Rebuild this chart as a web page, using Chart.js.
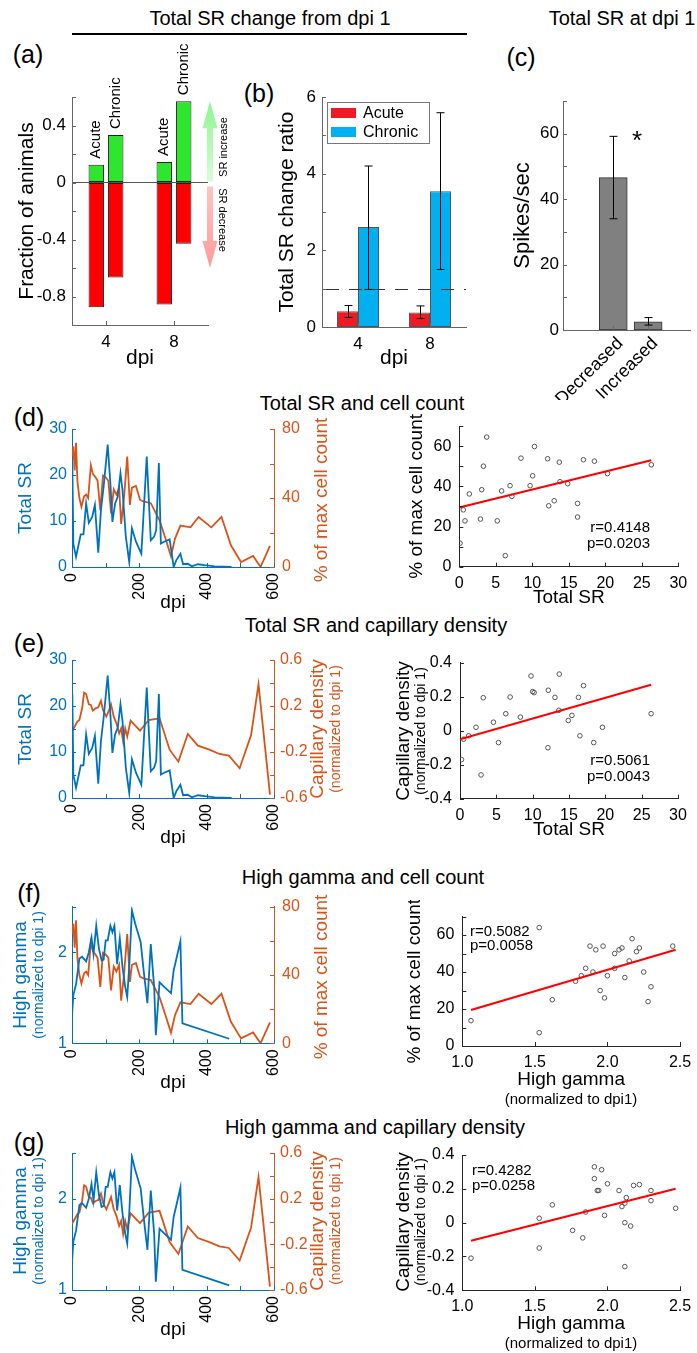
<!DOCTYPE html>
<html><head><meta charset="utf-8">
<script src="https://cdn.jsdelivr.net/npm/chart.js@4.4.1/dist/chart.umd.min.js"></script>
<style>
html,body{margin:0;padding:0;background:#fff}
body{width:697px;height:1353px;position:relative;overflow:hidden;font-family:'Liberation Sans',Arial,sans-serif}
.t{position:absolute;white-space:nowrap;color:#000;transform:translate(-50%,-50%);line-height:1}
canvas{position:absolute}
</style></head><body>
<div class="t" style="left:270px;top:18px;font-size:20px">Total SR change from dpi 1</div>
<div style="position:absolute;left:72px;top:33px;width:395px;height:2px;background:#000"></div>
<div class="t" style="left:622px;top:18px;font-size:20px">Total SR at dpi 1</div>
<div class="t" style="left:28px;top:54px;font-size:25px">(a)</div>
<div class="t" style="left:259px;top:93px;font-size:25px">(b)</div>
<div class="t" style="left:521px;top:57px;font-size:25px">(c)</div>
<div class="t" style="left:29px;top:417px;font-size:25px">(d)</div>
<div class="t" style="left:362px;top:403px;font-size:20px">Total SR and cell count</div>
<div class="t" style="left:29px;top:643px;font-size:25px">(e)</div>
<div class="t" style="left:376px;top:625px;font-size:20px">Total SR and capillary density</div>
<div class="t" style="left:29px;top:893px;font-size:25px">(f)</div>
<div class="t" style="left:363px;top:877px;font-size:20px">High gamma and cell count</div>
<div class="t" style="left:29px;top:1142px;font-size:25px">(g)</div>
<div class="t" style="left:375px;top:1127px;font-size:20px">High gamma and capillary density</div>
<script>
// ===== DATA =====
// (a) fraction of animals
const aCategories = ['4', '8'];
const aAcuteIncrease = [0.125, 0.143];
const aChronicIncrease = [0.333, 0.571];
const aAcuteDecrease = [-0.875, -0.857];
const aChronicDecrease = [-0.667, -0.429];
// (b) total SR change ratio
const bCategories = ['4', '8'];
const bAcute = [0.41, 0.38];
const bAcuteLow = [0.25, 0.22];
const bAcuteHigh = [0.56, 0.55];
const bChronic = [2.61, 3.54];
const bChronicLow = [0.98, 1.5];
const bChronicHigh = [4.2, 5.59];
const bReference = 1;
// (c) total SR at dpi 1
const cCategories = ['Decreased', 'Increased'];
const cMeans = [46.6, 2.5];
const cLow = [34, 1.5];
const cHigh = [59.2, 3.8];
// time series
const srDpi = [1,4,12,26,34,42,50,60,68,78,86,94,106,114,120,128,136,144,150,160,170,178,190,206,222,234,244,250,258,264,274,290,302,310,322,330,344,356,374,394,424,474];
const srValues = [22.6,5.0,2.2,7.1,7.1,13.8,9.6,10.9,13.5,3.1,12.4,17.5,26.6,18.2,9.8,13.8,15.3,20.4,16.7,6.5,1.1,8.4,5.5,2.9,24.0,5.8,6.6,8.0,22.6,5.1,5.5,6.0,0,1.5,2.9,0.6,0.7,0.15,0.6,0.4,0.15,0];
const cellDpi = [0,4,8,12,16,22,28,36,42,48,56,62,70,76,84,92,100,108,116,124,132,140,146,154,164,172,178,190,202,212,234,260,276,294,306,322,352,376,414,444,472,502,538,560,588];
const cellValues = [64,70,56,72,50,40,35,41,42,40,59,54,52,50,33,53,52,50,31,45,42,46,25,39,64,36,46,47,39,38,37,27,17.5,6.2,16.5,24,23,29,23,29,12.6,2.9,6.4,0,12.2];
const capDpi = [0,4,16,22,30,36,42,50,56,62,70,78,86,92,102,110,116,124,132,140,146,152,158,164,174,202,228,260,290,316,344,374,408,438,466,498,532,554,588];
const capValues = [-0.02,0.0,0.064,0.078,0.18,0.316,0.304,0.214,0.209,0.16,0.18,0.188,0.246,0.165,0.107,0.165,0.214,0.107,0.049,-0.038,0.006,-0.11,0.006,-0.067,0.072,-0.014,0.078,0.093,-0.18,-0.284,-0.043,-0.145,-0.18,-0.217,-0.232,-0.342,-0.052,0.39,-0.57];
const hgDpi = [0,4,12,22,30,42,50,58,64,72,80,88,94,100,106,114,120,126,134,142,150,158,164,170,178,188,204,214,224,234,244,249,260,274,294,302,322,328,467];
const hgValues = [1.3,1.53,1.65,1.93,1.95,1.9,2.0,2.16,1.98,2.29,2.04,1.91,1.92,2.13,2.13,2.29,2.22,2.29,1.87,2.15,1.84,1.62,1.51,1.84,2.46,2.31,2.11,1.76,1.44,2.09,1.62,1.09,1.67,1.62,1.55,1.8,2.12,1.22,1.05];
// scatter (d)
const dSR = [0.1,0.55,0.78,1.37,2.9,3.07,3.3,3.75,5.2,5.8,6.3,6.95,7.2,8.45,9.7,10.05,10.3,12.1,12.25,13,13.7,13.8,14.85,16.2,16.2,17,18.5,20.3,26.3];
const dCount = [11.7,28.3,22.8,36.2,23.7,38.3,50,64.5,22.8,37.7,5.5,40.3,35,54,40.3,45.2,59.8,53.7,30.3,32.8,52,42.3,41.3,31.5,24.7,53.2,52.5,46.3,50.7];
const dFitX = [0, 26.3], dFitY = [29.5, 53];
// scatter (e)
const eSR = [0.2,0.5,1.2,2.2,2.9,3.2,4.6,5.3,6.3,6.9,8.3,9.77,10,10.2,12.1,12.15,13.07,13.6,13.66,14.9,15.4,16.3,16.5,17,18.4,19.6,26.3];
const eCap = [-0.17,-0.05,-0.03,0.02,-0.26,0.194,0.05,-0.07,0.1,0.198,0.08,0.322,0.23,0.224,-0.1,0.238,0.196,0.12,0.333,0.06,0.09,0.196,-0.03,0.265,-0.07,0.02,0.1];
const eFitX = [0, 26.3], eFitY = [-0.05, 0.27];
// scatter (f)
const fHG = [1.06,1.53,1.53,1.62,1.78,1.82,1.85,1.88,1.9,1.92,1.95,1.97,1.98,2.0,2.05,2.05,2.08,2.1,2.12,2.15,2.17,2.2,2.22,2.25,2.28,2.3,2.45];
const fCount = [13.7,7.2,64,25,35,38,42,54,40,52,30,54,26,38,50,42,52,53,37,46,58,51,53,40,24,32,54];
const fFitX = [1.06, 2.47], fFitY = [19.5, 52];
// scatter (g)
const gHG = [1.06,1.53,1.53,1.62,1.76,1.83,1.85,1.91,1.91,1.93,1.94,1.96,1.98,2.0,2.08,2.1,2.12,2.13,2.12,2.16,2.12,2.18,2.22,2.3,2.3,2.47];
const gCap = [-0.21,0.026,-0.15,0.105,-0.046,-0.09,0.063,0.33,0.26,0.19,0.19,0.313,0.043,0.23,0.19,0.095,0.115,0.148,0.0,-0.02,-0.26,0.22,0.225,0.19,0.13,0.085];
const gFitX = [1.06, 2.47], gFitY = [-0.107, 0.2];

// ===== STYLE / HELPERS =====
const FONT = "'Liberation Sans', Arial, Helvetica, sans-serif";
const BLUE = '#0072bd', ORANGE = '#d95319';
const GREEN = '#2de62d', RED = '#ff0000';
Chart.defaults.font.family = FONT;
Chart.defaults.color = '#000';
Chart.defaults.animation = false;
Chart.defaults.plugins.legend.display = false;
Chart.defaults.plugins.tooltip.enabled = false;

const near = (v, m) => Math.abs(v / m - Math.round(v / m)) < 1e-6;
const fmt = v => String(parseFloat(Number(v).toFixed(2)));
const pts = (xs, ys) => xs.map((x, i) => ({x: x, y: ys[i]}));

// inward tick marks (MATLAB style)
Chart.register({id: 'mticks', afterDatasetsDraw(chart) {
  const ctx = chart.ctx, a = chart.chartArea, len = 4;
  Object.values(chart.scales).forEach(s => {
    ctx.save(); ctx.strokeStyle = s.options.border.color; ctx.lineWidth = 1; ctx.beginPath();
    s.ticks.forEach((t, i) => {
      const p = Math.round(s.getPixelForTick(i)) + 0.5;
      if (s.isHorizontal()) { ctx.moveTo(p, a.bottom); ctx.lineTo(p, a.bottom - len); }
      else if (s.position === 'right') { ctx.moveTo(a.right, p); ctx.lineTo(a.right - len, p); }
      else { ctx.moveTo(a.left, p); ctx.lineTo(a.left + len, p); }
    });
    ctx.stroke(); ctx.restore();
  });
}});
// error bars from dataset errLow / errHigh
Chart.register({id: 'errbars', afterDatasetsDraw(chart) {
  const ctx = chart.ctx;
  chart.data.datasets.forEach((ds, di) => {
    if (!ds.errLow) return;
    const meta = chart.getDatasetMeta(di), ys = chart.scales[meta.yAxisID];
    meta.data.forEach((el, i) => {
      const x = Math.round(el.x) + 0.5, y1 = ys.getPixelForValue(ds.errLow[i]), y2 = ys.getPixelForValue(ds.errHigh[i]);
      ctx.save(); ctx.strokeStyle = '#000'; ctx.lineWidth = 1; ctx.beginPath();
      ctx.moveTo(x, y1); ctx.lineTo(x, y2);
      ctx.moveTo(x - 4, y1); ctx.lineTo(x + 4, y1);
      ctx.moveTo(x - 4, y2); ctx.lineTo(x + 4, y2);
      ctx.stroke(); ctx.restore();
    });
  });
}});
function textPlugin(items, ox, oy) {
  return {id: 'texts', afterDraw(chart) {
    const ctx = chart.ctx;
    items.forEach(it => {
      ctx.save();
      ctx.translate(it.x - ox, it.y - oy);
      if (it.rot) ctx.rotate(it.rot * Math.PI / 180);
      ctx.font = (it.size || 15) + 'px ' + FONT;
      ctx.fillStyle = it.color || '#000';
      ctx.textAlign = it.align || 'center';
      ctx.textBaseline = 'middle';
      ctx.fillText(it.text, 0, 0);
      ctx.restore();
    });
  }};
}
function mk(box, plot, cfg, items) {
  const c = document.createElement('canvas');
  c.width = box.w; c.height = box.h;
  c.style.left = box.x + 'px'; c.style.top = box.y + 'px';
  c.style.width = box.w + 'px'; c.style.height = box.h + 'px';
  document.body.appendChild(c);
  const L = plot.L - box.x, T = plot.T - box.y, R = box.x + box.w - plot.R, B = box.y + box.h - plot.B;
  let hasRight = false;
  Object.keys(cfg.options.scales).forEach(id => {
    const s = cfg.options.scales[id];
    const pos = s.position || (id[0] === 'x' ? 'bottom' : 'left');
    if (pos === 'right') hasRight = true;
    s.afterFit = sc => {
      if (pos === 'bottom') sc.height = B; else sc.width = (pos === 'left') ? L : R;
      sc.paddingLeft = 0; sc.paddingRight = 0; sc.paddingTop = 0; sc.paddingBottom = 0;
    };
  });
  cfg.options.responsive = false;
  cfg.options.maintainAspectRatio = false;
  cfg.options.devicePixelRatio = 1;
  cfg.options.layout = {padding: {left: 0, top: T, right: hasRight ? 0 : R, bottom: 0}};
  cfg.plugins = (cfg.plugins || []).concat(items ? [textPlugin(items, box.x, box.y)] : []);
  return new Chart(c, cfg);
}
function axis(o) {
  const s = {
    type: o.type || 'linear',
    position: o.position,
    grid: {display: false, drawTicks: false},
    border: {display: true, color: o.color || '#262626', width: 1},
    ticks: {font: {size: o.tsize || 16}, color: o.tcolor || '#000', padding: o.pad == null ? 6 : o.pad,
            autoSkip: false, maxRotation: o.rot || 0, minRotation: o.rot || 0},
    title: o.title ? {display: true, text: o.title, color: o.tcolor || '#000', font: {size: o.titleSize || 19},
            padding: {top: o.titlePad == null ? 4 : o.titlePad, bottom: o.titlePad == null ? 4 : o.titlePad}} : {display: false}
  };
  if (o.min != null) s.min = o.min;
  if (o.max != null) s.max = o.max;
  if (o.step != null) s.ticks.stepSize = o.step;
  if (o.cb) s.ticks.callback = o.cb;
  if (o.labelOffset) s.ticks.labelOffset = o.labelOffset;
  return s;
}

// ===== (a) =====
const barLabels = {id: 'barLabels', afterDatasetsDraw(chart) {
  const ctx = chart.ctx;
  [0, 1].forEach(di => {
    chart.getDatasetMeta(di).data.forEach(el => {
      ctx.save(); ctx.translate(el.x, el.y - 6); ctx.rotate(-Math.PI / 2);
      ctx.font = '15px ' + FONT; ctx.fillStyle = '#000'; ctx.textAlign = 'left'; ctx.textBaseline = 'middle';
      ctx.fillText(chart.data.datasets[di].label, 0, 0); ctx.restore();
    });
  });
}};
const arrowsA = {id: 'arrowsA', afterDraw(chart) {
  const ctx = chart.ctx, a = chart.chartArea, y = chart.scales.y;
  const x = a.right + 2, z = y.getPixelForValue(0);
  function arrow(y0, tip, c1, c2) {
    const dir = tip < y0 ? 1 : -1, hl = 27, hw = 7.5, sw = 3;
    const g = ctx.createLinearGradient(0, tip, 0, y0); g.addColorStop(0, c1); g.addColorStop(1, c2);
    ctx.fillStyle = g; ctx.beginPath();
    ctx.moveTo(x - sw, y0); ctx.lineTo(x - sw, tip + dir * hl); ctx.lineTo(x - hw, tip + dir * hl);
    ctx.lineTo(x, tip); ctx.lineTo(x + hw, tip + dir * hl); ctx.lineTo(x + sw, tip + dir * hl);
    ctx.lineTo(x + sw, y0); ctx.closePath(); ctx.fill();
  }
  ctx.save();
  arrow(z - 1, y.getPixelForValue(0.57), '#8ef58e', '#d8fcd8');
  arrow(z + 4, y.getPixelForValue(-0.6), '#ff9a9a', '#ffc4c4');
  ctx.restore();
}};
mk({x: 0, y: 30, w: 235, h: 345}, {L: 72, T: 97, R: 208, B: 325}, {
  type: 'bar',
  data: {labels: aCategories, datasets: [
    {label: 'Acute', data: aAcuteIncrease, stack: 'acute', backgroundColor: GREEN},
    {label: 'Chronic', data: aChronicIncrease, stack: 'chronic', backgroundColor: GREEN},
    {label: 'Acute (decrease)', data: aAcuteDecrease, stack: 'acute', backgroundColor: RED},
    {label: 'Chronic (decrease)', data: aChronicDecrease, stack: 'chronic', backgroundColor: RED}
  ]},
  options: {
    datasets: {bar: {categoryPercentage: 0.57, barPercentage: 0.8, borderColor: '#222', borderWidth: 1, borderSkipped: false}},
    scales: {
      x: Object.assign(axis({type: 'category', color: '#666', tsize: 17, pad: 7, title: 'dpi', titleSize: 21}), {stacked: true}),
      y: Object.assign(axis({min: -1, max: 0.6, step: 0.2, color: '#666', tsize: 17, pad: 6, title: 'Fraction of animals', titleSize: 21, titlePad: 15,
            cb: v => near(v, 0.4) ? fmt(v) : ''}),
            {stacked: true, grid: {display: true, drawTicks: false, color: c => Math.abs(c.tick.value) < 1e-9 ? '#555' : 'rgba(0,0,0,0)'}})
    }
  },
  plugins: [barLabels, arrowsA]
}, [
  {text: 'SR increase', x: 224, y: 147, rot: -90, size: 11},
  {text: 'SR decrease', x: 222, y: 220, rot: 90, size: 11}
]);

// ===== (b) =====
const refLine = {id: 'refLine', afterDatasetsDraw(chart) {
  const ctx = chart.ctx, a = chart.chartArea, y = Math.round(chart.scales.y.getPixelForValue(bReference)) + 0.5;
  ctx.save(); ctx.strokeStyle = '#333'; ctx.lineWidth = 1; ctx.setLineDash([13, 10]);
  ctx.beginPath(); ctx.moveTo(a.left + 4, y); ctx.lineTo(a.right, y); ctx.stroke(); ctx.restore();
}};
const legendB = {id: 'legendB', afterDraw(chart) {
  const ctx = chart.ctx, a = chart.chartArea;
  const x0 = a.left + 5, y0 = a.top + 5, w = 102, h = 41;
  ctx.save(); ctx.fillStyle = '#fff'; ctx.fillRect(x0, y0, w, h);
  ctx.strokeStyle = '#777'; ctx.lineWidth = 1; ctx.strokeRect(x0 + 0.5, y0 + 0.5, w, h);
  chart.data.datasets.forEach((ds, i) => {
    const cy = y0 + 11 + i * 19;
    ctx.fillStyle = ds.backgroundColor; ctx.fillRect(x0 + 4, cy - 5, 25, 10);
    ctx.fillStyle = '#000'; ctx.font = '16px ' + FONT; ctx.textAlign = 'left'; ctx.textBaseline = 'middle';
    ctx.fillText(ds.label, x0 + 36, cy + 1);
  });
  ctx.restore();
}};
mk({x: 235, y: 70, w: 240, h: 305}, {L: 322, T: 97, R: 466, B: 327}, {
  type: 'bar',
  data: {labels: bCategories, datasets: [
    {label: 'Acute', data: bAcute, backgroundColor: '#ed1c24', errLow: bAcuteLow, errHigh: bAcuteHigh},
    {label: 'Chronic', data: bChronic, backgroundColor: '#00b0f0', errLow: bChronicLow, errHigh: bChronicHigh}
  ]},
  options: {
    datasets: {bar: {categoryPercentage: 0.583, barPercentage: 1, borderColor: '#555', borderWidth: 1, borderSkipped: false}},
    scales: {
      x: axis({type: 'category', color: '#666', tsize: 17, pad: 7, title: 'dpi', titleSize: 21}),
      y: axis({min: 0, max: 6, step: 1, color: '#666', tsize: 17, pad: 6, title: 'Total SR change ratio', titleSize: 21, titlePad: 40,
            cb: v => near(v, 2) ? fmt(v) : ''})
    }
  },
  plugins: [refLine, legendB]
});

// ===== (c) =====
const cx = axis({min: 0.47, max: 2.29, color: '#666', tsize: 18, pad: 3, rot: 45, labelOffset: 7, cb: v => cCategories[Math.round(v) - 1] || ''});
cx.afterBuildTicks = s => { s.ticks = cCategories.map((c, i) => ({value: i + 1})); };
mk({x: 480, y: 70, w: 217, h: 330}, {L: 563, T: 101, R: 690, B: 330}, {
  type: 'bar',
  data: {datasets: [
    {label: 'Total SR at dpi 1', data: pts(cCategories.map((c, i) => i + 1), cMeans), backgroundColor: '#808080',
     borderColor: '#333', borderWidth: 1, borderSkipped: false, barThickness: 28, errLow: cLow, errHigh: cHigh}
  ]},
  options: {
    scales: {
      x: cx,
      y: axis({min: 0, max: 70, step: 10, color: '#666', tsize: 17, pad: 4, title: 'Spikes/sec', titleSize: 22, titlePad: 30,
            cb: v => near(v, 20) ? fmt(v) : ''})
    }
  }
}, [{text: '*', x: 637, y: 142, size: 26}]);

// ===== line-chart helpers =====
function dpiAxis(title) {
  return axis({min: 0, max: 600, step: 100, color: BLUE, tsize: 16, pad: 6, rot: 90, title: title, cb: v => near(v, 200) ? fmt(v) : ''});
}
function lineDs(label, xs, ys, color, yid) {
  return {label: label, data: pts(xs, ys), borderColor: color, backgroundColor: color, borderWidth: 1.8, pointRadius: 0, tension: 0, yAxisID: yid};
}
function scatterDs(label, xs, ys) {
  return {label: label, data: pts(xs, ys), pointRadius: 2.3, pointBackgroundColor: 'rgba(0,0,0,0)', pointBorderColor: '#555', pointBorderWidth: 1, showLine: false};
}
function fitDs(xs, ys) {
  return {label: 'Linear fit', data: pts(xs, ys), borderColor: '#ff0000', borderWidth: 2, pointRadius: 0, showLine: true};
}
const oddTenth = v => (Math.abs(Math.round(v / 0.2)) % 2 === 1) ? fmt(v) : '';

// ===== (d) left =====
mk({x: 0, y: 410, w: 350, h: 208}, {L: 72, T: 429, R: 274, B: 567}, {
  type: 'line',
  data: {datasets: [lineDs('Total SR', srDpi, srValues, BLUE, 'y'), lineDs('% of max cell count', cellDpi, cellValues, ORANGE, 'y1')]},
  options: {scales: {
    x: dpiAxis('dpi'),
    y: axis({min: 0, max: 30, step: 10, color: BLUE, tcolor: BLUE, pad: 5, title: 'Total SR', titlePad: 14}),
    y1: axis({position: 'right', min: 0, max: 80, step: 20, color: ORANGE, tcolor: ORANGE, pad: 8, cb: v => near(v, 40) ? fmt(v) : ''})
  }}
}, [{text: '% of max cell count', x: 322, y: 500, rot: -90, size: 19, color: ORANGE}]);

// ===== (d) right =====
mk({x: 390, y: 410, w: 307, h: 203}, {L: 459.3, T: 426, R: 678.3, B: 566.7}, {
  type: 'scatter',
  data: {datasets: [fitDs(dFitX, dFitY), scatterDs('Animals', dSR, dCount)]},
  options: {scales: {
    x: axis({min: 0, max: 30, step: 5, pad: 7, title: 'Total SR'}),
    y: axis({min: 0, max: 70, step: 10, pad: 8, title: '% of max cell count', titlePad: 15, cb: v => near(v, 20) ? fmt(v) : ''})
  }}
}, [
  {text: 'r=0.4148', x: 650, y: 528, align: 'right'},
  {text: 'p=0.0203', x: 650, y: 544, align: 'right'}
]);

// ===== (e) left =====
mk({x: 0, y: 645, w: 350, h: 208}, {L: 72, T: 660, R: 274, B: 798}, {
  type: 'line',
  data: {datasets: [lineDs('Total SR', srDpi, srValues, BLUE, 'y'), lineDs('Capillary density', capDpi, capValues, ORANGE, 'y1')]},
  options: {scales: {
    x: dpiAxis('dpi'),
    y: axis({min: 0, max: 30, step: 5, color: BLUE, tcolor: BLUE, pad: 5, title: 'Total SR', titlePad: 14, cb: v => near(v, 10) ? fmt(v) : ''}),
    y1: axis({position: 'right', min: -0.6, max: 0.6, step: 0.2, color: ORANGE, tcolor: ORANGE, pad: 6, cb: oddTenth})
  }}
}, [
  {text: 'Capillary density', x: 318, y: 729, rot: -90, size: 19, color: ORANGE},
  {text: '(normalized to dpi 1)', x: 336, y: 729, rot: -90, size: 14, color: ORANGE}
]);

// ===== (e) right =====
mk({x: 390, y: 645, w: 307, h: 200}, {L: 460, T: 662.7, R: 678, B: 798.7}, {
  type: 'scatter',
  data: {datasets: [fitDs(eFitX, eFitY), scatterDs('Animals', eSR, eCap)]},
  options: {scales: {
    x: axis({min: 0, max: 30, step: 5, pad: 7, title: 'Total SR'}),
    y: axis({min: -0.4, max: 0.4, step: 0.2, pad: 8, cb: fmt})
  }}
}, [
  {text: 'Capillary density', x: 404, y: 731, rot: -90, size: 19},
  {text: '(normalized to dpi 1)', x: 421, y: 731, rot: -90, size: 14},
  {text: 'r=0.5061', x: 650, y: 761, align: 'right'},
  {text: 'p=0.0043', x: 650, y: 777, align: 'right'}
]);

// ===== (f) left =====
mk({x: 0, y: 890, w: 350, h: 208}, {L: 72, T: 906.7, R: 274, B: 1043.3}, {
  type: 'line',
  data: {datasets: [lineDs('High gamma', hgDpi, hgValues, BLUE, 'y'), lineDs('% of max cell count', cellDpi, cellValues, ORANGE, 'y1')]},
  options: {scales: {
    x: dpiAxis('dpi'),
    y: axis({min: 1, max: 2.5, step: 0.5, color: BLUE, tcolor: BLUE, pad: 5, cb: v => near(v, 1) ? fmt(v) : ''}),
    y1: axis({position: 'right', min: 0, max: 80, step: 20, color: ORANGE, tcolor: ORANGE, pad: 8, cb: v => near(v, 40) ? fmt(v) : ''})
  }}
}, [
  {text: 'High gamma', x: 21, y: 975, rot: -90, size: 19, color: BLUE},
  {text: '(normalized to dpi 1)', x: 39, y: 975, rot: -90, size: 14, color: BLUE},
  {text: '% of max cell count', x: 322, y: 977, rot: -90, size: 19, color: ORANGE}
]);

// ===== (f) right =====
mk({x: 390, y: 900, w: 307, h: 210}, {L: 462.3, T: 916.5, R: 680, B: 1046}, {
  type: 'scatter',
  data: {datasets: [fitDs(fFitX, fFitY), scatterDs('Animals', fHG, fCount)]},
  options: {scales: {
    x: axis({min: 1, max: 2.5, step: 0.5, pad: 7, title: 'High gamma', titlePad: 19}),
    y: axis({min: 0, max: 70, step: 10, pad: 8, title: '% of max cell count', titlePad: 13, cb: v => near(v, 20) ? fmt(v) : ''})
  }}
}, [
  {text: '(normalized to dpi1)', x: 571, y: 1100, size: 15},
  {text: 'r=0.5082', x: 470, y: 932, align: 'left'},
  {text: 'p=0.0058', x: 470, y: 946, align: 'left'}
]);

// ===== (g) left =====
mk({x: 0, y: 1135, w: 350, h: 210}, {L: 72, T: 1153, R: 274, B: 1290}, {
  type: 'line',
  data: {datasets: [lineDs('High gamma', hgDpi, hgValues, BLUE, 'y'), lineDs('Capillary density', capDpi, capValues, ORANGE, 'y1')]},
  options: {scales: {
    x: dpiAxis('dpi'),
    y: axis({min: 1, max: 2.5, step: 0.5, color: BLUE, tcolor: BLUE, pad: 5, cb: v => near(v, 1) ? fmt(v) : ''}),
    y1: axis({position: 'right', min: -0.6, max: 0.6, step: 0.2, color: ORANGE, tcolor: ORANGE, pad: 6, cb: oddTenth})
  }}
}, [
  {text: 'High gamma', x: 21, y: 1221, rot: -90, size: 19, color: BLUE},
  {text: '(normalized to dpi 1)', x: 39, y: 1221, rot: -90, size: 14, color: BLUE},
  {text: 'Capillary density', x: 318, y: 1221, rot: -90, size: 19, color: ORANGE},
  {text: '(normalized to dpi 1)', x: 336, y: 1221, rot: -90, size: 14, color: ORANGE}
]);

// ===== (g) right =====
mk({x: 390, y: 1140, w: 307, h: 213}, {L: 462.3, T: 1155, R: 680, B: 1290.3}, {
  type: 'scatter',
  data: {datasets: [fitDs(gFitX, gFitY), scatterDs('Animals', gHG, gCap)]},
  options: {scales: {
    x: axis({min: 1, max: 2.5, step: 0.5, pad: 7, title: 'High gamma', titlePad: 18}),
    y: axis({min: -0.4, max: 0.4, step: 0.2, pad: 8, cb: fmt})
  }}
}, [
  {text: 'Capillary density', x: 404, y: 1222, rot: -90, size: 19},
  {text: '(normalized to dpi 1)', x: 421, y: 1222, rot: -90, size: 14},
  {text: '(normalized to dpi1)', x: 571, y: 1344, size: 15},
  {text: 'r=0.4282', x: 472, y: 1171, align: 'left'},
  {text: 'p=0.0258', x: 472, y: 1186, align: 'left'}
]);
</script>
</body></html>
